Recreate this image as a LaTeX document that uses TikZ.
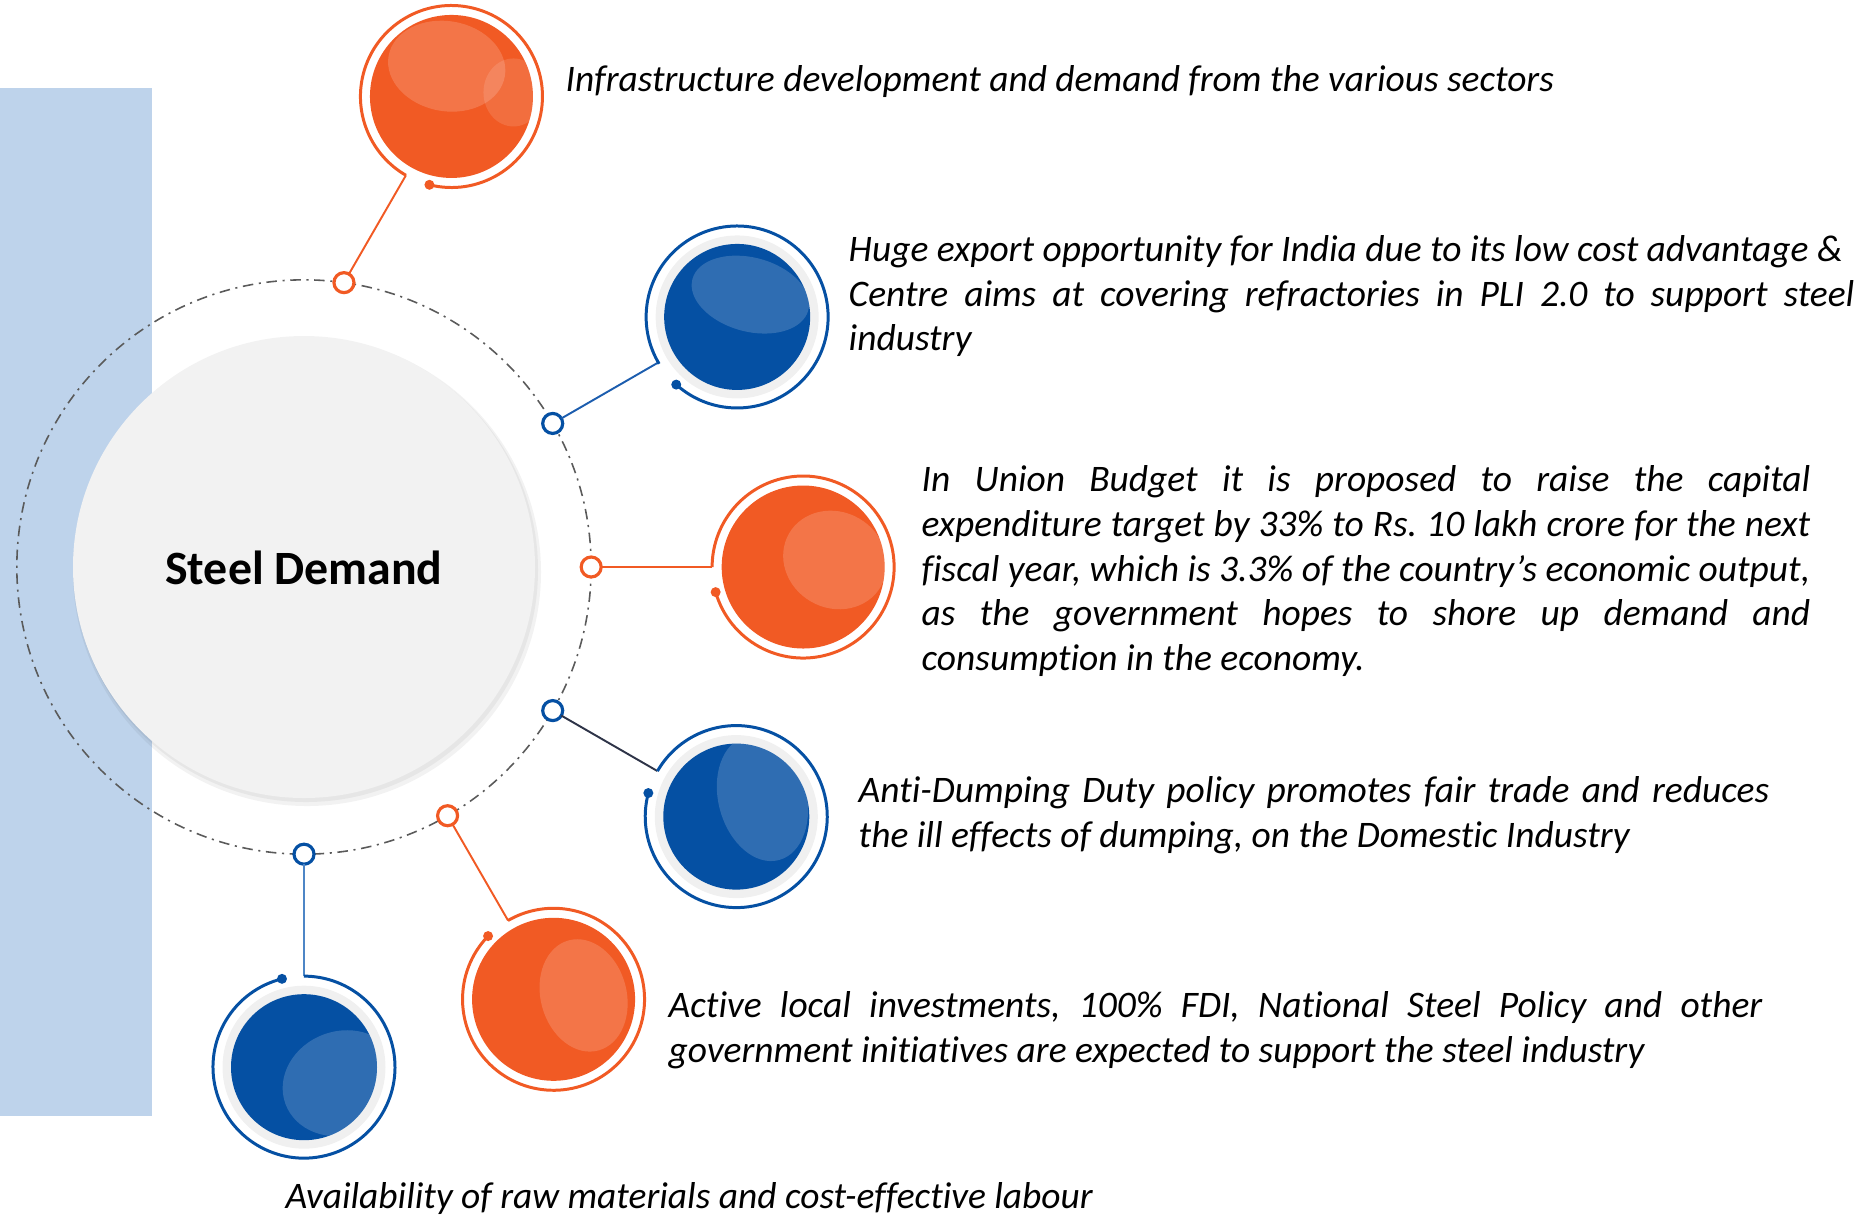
\documentclass[tikz,border=0pt]{standalone}
\usepackage{fontspec}
\setmainfont{Carlito}[Ligatures={TeX,NoCommon}]
\usepackage{xcolor}
\usepackage{tikz}
\usetikzlibrary{positioning,calc}
\definecolor{steelorange}{RGB}{241,90,36}
\definecolor{steelblue}{RGB}{5,80,163}
\definecolor{panel}{RGB}{190,211,235}
\definecolor{orbitgray}{RGB}{90,90,90}
\definecolor{disc}{RGB}{242,242,242}
\definecolor{band}{RGB}{240,240,240}
\definecolor{linkblue}{RGB}{28,93,174}
\definecolor{linknavy}{RGB}{46,52,72}
\definecolor{linksky}{RGB}{77,134,198}
\frenchspacing

\begin{document}
\begin{tikzpicture}[x=0.01cm,y=0.01cm,
  orbit/.style={circle,draw=orbitgray,line width=0.45pt,dash pattern=on 3pt off 1.6pt on 0.6pt off 1.6pt,minimum size=5.74cm,inner sep=0,outer sep=0},
  knob/.style={circle,draw=#1,line width=0.9pt,fill=white,minimum size=0.2cm,inner sep=0,outer sep=0},
  ball/.style={circle,minimum size=1.82cm,inner sep=0,outer sep=0},
  link/.style={line width=0.55pt,draw=#1},
  rim/.style={line width=0.85pt,draw=#1},
  gloss/.style={fill=white,opacity=0.17},
  note/.style={font=\itshape\fontsize{10.65}{12.66}\selectfont,inner sep=0,anchor=west,text=black}]
  \useasboundingbox (0,0) rectangle (1876,-1217);
  \fill[panel] (0,-88) rectangle (152,-1116);
  % centre disc
  \fill[black,opacity=0.05] (307,-572) circle (234);
  \fill[black,opacity=0.05] (306,-570) circle (232);
  \fill[disc] (304,-567) circle (231);
  \node[orbit] (orb) at (304,-567) {};
  \node[font=\bfseries\fontsize{13.6}{16}\selectfont] (title) at (304,-568) {Steel Demand};
  % knobs on the orbit
  \node[knob=steelorange] (s1) at (orb.82) {};
  \node[knob=steelblue] (s2) at (orb.30) {};
  \node[knob=steelorange] (s3) at (orb.0) {};
  \node[knob=steelblue] (s4) at (orb.-30) {};
  \node[knob=steelorange] (s5) at (orb.-60) {};
  \node[knob=steelblue] (s6) at (orb.-90) {};
  % balls
  \node[ball] (b1) at ($(s1)+(60:215)$) {};
  \node[ball] (b2) at ($(s2)+(30:213)$) {};
  \node[ball] (b3) at ($(s3)+(0:212)$) {};
  \node[ball] (b4) at ($(s4)+(-30:212)$) {};
  \node[ball] (b5) at ($(s5)+(-60:212)$) {};
  \node[ball] (b6) at ($(s6)+(-90:213)$) {};
  \draw[link=steelorange] (s1) -- (b1);
  \draw[link=linkblue] (s2) -- (b2);
  \draw[link=steelorange] (s3) -- (b3);
  \draw[link=linknavy] (s4) -- (b4);
  \draw[link=steelorange] (s5) -- (b5);
  \draw[link=linksky] (s6) -- (b6);
  % ball 1
  \fill[steelorange] (b1) circle (81.5);
  \begin{scope}
    \clip (b1) circle (81.5);
    \fill[gloss,rotate around={-10:(b1)}] ($(b1)+(-10,29)$) ellipse [x radius=59,y radius=45];
    \fill[gloss,opacity=0.12] ($(b1)+(62,4)$) ellipse [x radius=30,y radius=34];
  \end{scope}
  \draw[rim=steelorange] (b1.256) arc[start angle=256,end angle=600,radius=91];
  \fill[steelorange] (b1.256) circle (5);
  % ball 2
  \fill[band] (b2) circle (81.5);
  \fill[steelblue] (b2) circle (73);
  \begin{scope}
    \clip (b2) circle (73);
    \fill[gloss,rotate around={-15:(b2)}] ($(b2)+(7,25)$) ellipse [x radius=60,y radius=37];
  \end{scope}
  \draw[rim=steelblue] (b2.228) arc[start angle=228,end angle=571,radius=91];
  \fill[steelblue] (b2.228) circle (5);
  % ball 3
  \fill[steelorange] (b3) circle (81.5);
  \begin{scope}
    \clip (b3) circle (81.5);
    \fill[gloss,rotate around={-30:(b3)}] ($(b3)+(24,22)$) ellipse [x radius=53,y radius=48];
  \end{scope}
  \draw[rim=steelorange] (b3.196) arc[start angle=196,end angle=540,radius=91];
  \fill[steelorange] (b3.196) circle (5);
  % ball 4
  \fill[band] (b4) circle (81.5);
  \fill[steelblue] (b4) circle (73);
  \begin{scope}
    \clip (b4) circle (73);
    \fill[gloss,rotate around={15:(b4)}] ($(b4)+(30,11)$) ellipse [x radius=44,y radius=64];
  \end{scope}
  \draw[rim=steelblue] (b4.165) arc[start angle=165,end angle=510,radius=91];
  \fill[steelblue] (b4.165) circle (5);
  % ball 5
  \fill[steelorange] (b5) circle (81.5);
  \begin{scope}
    \clip (b5) circle (81.5);
    \fill[gloss,rotate around={15:(b5)}] ($(b5)+(30,-4)$) ellipse [x radius=43,y radius=57];
  \end{scope}
  \draw[rim=steelorange] (b5.136) arc[start angle=136,end angle=480,radius=91];
  \fill[steelorange] (b5.136) circle (5);
  % ball 6
  \fill[band] (b6) circle (81.5);
  \fill[steelblue] (b6) circle (73);
  \begin{scope}
    \clip (b6) circle (73);
    \fill[gloss,rotate around={20:(b6)}] ($(b6)+(30,-28)$) ellipse [x radius=60,y radius=52];
  \end{scope}
  \draw[rim=steelblue] (b6.104) arc[start angle=104,end angle=450,radius=91];
  \fill[steelblue] (b6.104) circle (5);
  % texts
  \node[note] (t1) at (565,-82) {Infrastructure development and demand from the various sectors};
  \node[note,text width=10.05cm,align=justify] (t2) at (848,-296) {Huge export opportunity for India due to its low cost advantage \&\newline Centre aims at covering refractories in PLI 2.0 to support steel\linebreak industry};
  \node[note,text width=8.88cm,align=justify] (t3) at (921,-571) {In Union Budget it is proposed to raise the capital\linebreak expenditure target by 33\% to Rs. 10 lakh crore for the next\linebreak fiscal year, which is 3.3\% of the country\char39 s economic output,\linebreak as the government hopes to shore up demand and\linebreak consumption in the economy.};
  \node[note,text width=9.1cm,align=justify] (t4) at (858,-815) {Anti-Dumping Duty policy promotes fair trade and reduces\linebreak the ill effects of dumping, on the Domestic Industry};
  \node[note,text width=10.93cm,align=justify] (t5) at (668,-1030) {Active local investments, 100\% FDI, National Steel Policy and other\linebreak government initiatives are expected to support the steel industry};
  \node[note] (t6) at (285,-1198) {Availability of raw materials and cost-effective labour};
\end{tikzpicture}
\end{document}
